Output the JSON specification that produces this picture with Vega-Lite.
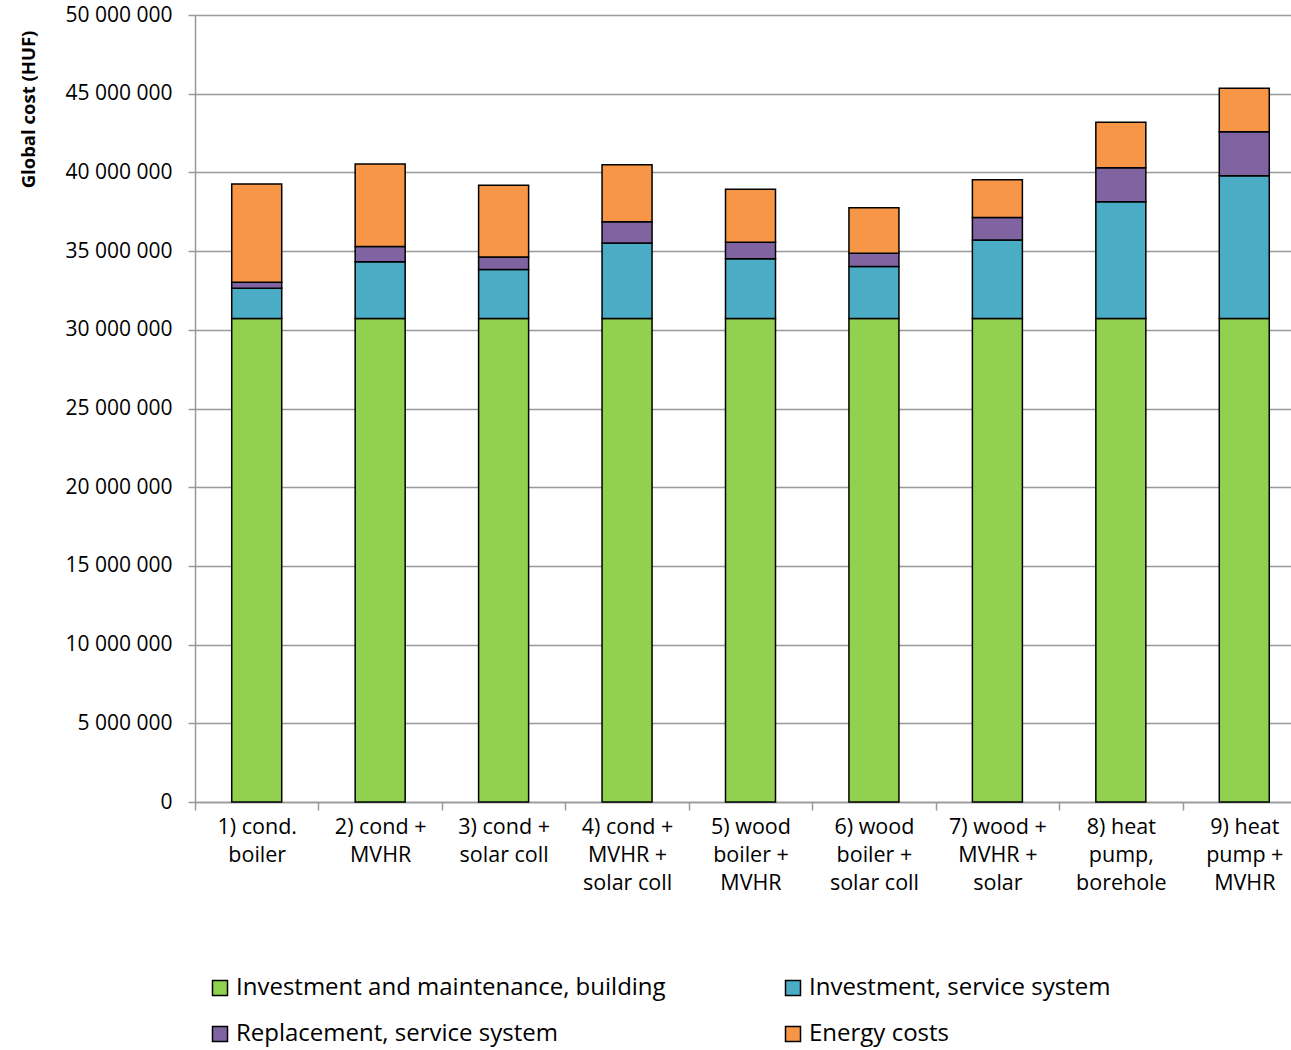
{
  "$schema": "https://vega.github.io/schema/vega-lite/v6.json",
  "autosize": {"type": "none"},
  "padding": {"left": 195, "top": 15, "right": 0, "bottom": 248},
  "width": 1096,
  "height": 787,
  "background": "white",
  "config": {
    "view": {"stroke": null},
    "font": "Open Sans"
  },
  "data": {
    "values": [
      {"variant": "1) cond.\nboiler", "component": "Investment and maintenance, building", "cost": 30720000},
      {"variant": "1) cond.\nboiler", "component": "Investment, service system", "cost": 1920000},
      {"variant": "1) cond.\nboiler", "component": "Replacement, service system", "cost": 380000},
      {"variant": "1) cond.\nboiler", "component": "Energy costs", "cost": 6240000},
      {"variant": "2) cond +\nMVHR", "component": "Investment and maintenance, building", "cost": 30720000},
      {"variant": "2) cond +\nMVHR", "component": "Investment, service system", "cost": 3600000},
      {"variant": "2) cond +\nMVHR", "component": "Replacement, service system", "cost": 980000},
      {"variant": "2) cond +\nMVHR", "component": "Energy costs", "cost": 5240000},
      {"variant": "3) cond +\nsolar coll", "component": "Investment and maintenance, building", "cost": 30720000},
      {"variant": "3) cond +\nsolar coll", "component": "Investment, service system", "cost": 3110000},
      {"variant": "3) cond +\nsolar coll", "component": "Replacement, service system", "cost": 790000},
      {"variant": "3) cond +\nsolar coll", "component": "Energy costs", "cost": 4570000},
      {"variant": "4) cond +\nMVHR +\nsolar coll", "component": "Investment and maintenance, building", "cost": 30720000},
      {"variant": "4) cond +\nMVHR +\nsolar coll", "component": "Investment, service system", "cost": 4790000},
      {"variant": "4) cond +\nMVHR +\nsolar coll", "component": "Replacement, service system", "cost": 1360000},
      {"variant": "4) cond +\nMVHR +\nsolar coll", "component": "Energy costs", "cost": 3620000},
      {"variant": "5) wood\nboiler +\nMVHR", "component": "Investment and maintenance, building", "cost": 30720000},
      {"variant": "5) wood\nboiler +\nMVHR", "component": "Investment, service system", "cost": 3790000},
      {"variant": "5) wood\nboiler +\nMVHR", "component": "Replacement, service system", "cost": 1050000},
      {"variant": "5) wood\nboiler +\nMVHR", "component": "Energy costs", "cost": 3370000},
      {"variant": "6) wood\nboiler +\nsolar coll", "component": "Investment and maintenance, building", "cost": 30720000},
      {"variant": "6) wood\nboiler +\nsolar coll", "component": "Investment, service system", "cost": 3300000},
      {"variant": "6) wood\nboiler +\nsolar coll", "component": "Replacement, service system", "cost": 850000},
      {"variant": "6) wood\nboiler +\nsolar coll", "component": "Energy costs", "cost": 2890000},
      {"variant": "7) wood +\nMVHR +\nsolar", "component": "Investment and maintenance, building", "cost": 30720000},
      {"variant": "7) wood +\nMVHR +\nsolar", "component": "Investment, service system", "cost": 4980000},
      {"variant": "7) wood +\nMVHR +\nsolar", "component": "Replacement, service system", "cost": 1430000},
      {"variant": "7) wood +\nMVHR +\nsolar", "component": "Energy costs", "cost": 2400000},
      {"variant": "8) heat\npump,\nborehole", "component": "Investment and maintenance, building", "cost": 30720000},
      {"variant": "8) heat\npump,\nborehole", "component": "Investment, service system", "cost": 7410000},
      {"variant": "8) heat\npump,\nborehole", "component": "Replacement, service system", "cost": 2170000},
      {"variant": "8) heat\npump,\nborehole", "component": "Energy costs", "cost": 2880000},
      {"variant": "9) heat\npump +\nMVHR", "component": "Investment and maintenance, building", "cost": 30720000},
      {"variant": "9) heat\npump +\nMVHR", "component": "Investment, service system", "cost": 9070000},
      {"variant": "9) heat\npump +\nMVHR", "component": "Replacement, service system", "cost": 2790000},
      {"variant": "9) heat\npump +\nMVHR", "component": "Energy costs", "cost": 2760000}
    ]
  },
  "transform": [
    {"calculate": "indexof(['Investment and maintenance, building', 'Investment, service system', 'Replacement, service system', 'Energy costs'], datum.component)", "as": "stackOrder"}
  ],
  "mark": {"type": "bar", "width": 50, "stroke": "black", "strokeWidth": 1.5},
  "encoding": {
    "x": {
      "field": "variant",
      "type": "nominal",
      "sort": null,
      "scale": {"range": [0, 1111], "paddingInner": 0, "paddingOuter": 0},
      "axis": {
        "title": null,
        "labelAngle": 0,
        "labelExpr": "datum.value ? split(datum.value, '\\n') : ''",
        "labelFontSize": 21.5,
        "labelColor": "black",
        "labelLineHeight": 28,
        "labelPadding": 6,
        "labelBaseline": "top",
        "tickBand": "extent",
        "tickSize": 8,
        "tickColor": "#999999",
        "tickWidth": 1.5,
        "domainColor": "#999999",
        "domainWidth": 1.5,
        "labelLimit": 200
      }
    },
    "y": {
      "field": "cost",
      "type": "quantitative",
      "stack": "zero",
      "scale": {"domain": [0, 50000000], "nice": false},
      "axis": {
        "title": "Global cost (HUF)",
        "titleFontSize": 18.5,
        "titleFontWeight": "bold",
        "titleColor": "black",
        "titleX": -167,
        "titleY": 94,
        "titleAlign": "center",
        "titleBaseline": "middle",
        "titleAngle": -90,
        "values": [0, 5000000, 10000000, 15000000, 20000000, 25000000, 30000000, 35000000, 40000000, 45000000, 50000000],
        "labelExpr": "replace(replace(format(datum.value, ',d'), ',', ' '), ',', ' ')",
        "labelFontSize": 21,
        "labelColor": "black",
        "labelPadding": 16,
        "tickSize": 7,
        "tickColor": "#999999",
        "tickWidth": 1.5,
        "domainColor": "#999999",
        "domainWidth": 1.5,
        "grid": true,
        "gridColor": "#999999",
        "gridWidth": 1.5
      }
    },
    "color": {
      "field": "component",
      "type": "nominal",
      "sort": ["Investment and maintenance, building", "Investment, service system", "Replacement, service system", "Energy costs"],
      "scale": {
        "domain": ["Investment and maintenance, building", "Investment, service system", "Replacement, service system", "Energy costs"],
        "range": ["#92D050", "#4BACC6", "#8064A2", "#F79646"]
      },
      "legend": {
        "title": null,
        "orient": "none",
        "legendX": 13,
        "legendY": 961,
        "direction": "horizontal",
        "columns": 2,
        "columnPadding": 115,
        "rowPadding": 22,
        "symbolType": "square",
        "symbolSize": 225,
        "symbolStrokeColor": "black",
        "symbolStrokeWidth": 1.5,
        "symbolOpacity": 1,
        "labelFontSize": 24,
        "labelColor": "black",
        "labelLimit": 600,
        "labelOffset": 4
      }
    },
    "order": {"field": "stackOrder", "type": "quantitative", "sort": "ascending"}
  }
}
